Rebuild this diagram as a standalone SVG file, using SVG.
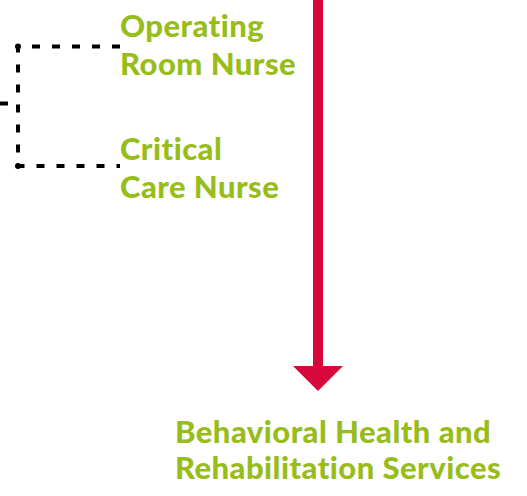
<svg xmlns="http://www.w3.org/2000/svg" width="527" height="496" viewBox="0 0 527 496">
  <style>
    .label { font-family: Lato, "Open Sans", "Liberation Sans", sans-serif; font-weight: 900; font-size: 31px; letter-spacing: 0.45px; font-variant-ligatures: none; fill: #98BD1B; }
    .dash { fill: none; stroke: #000; stroke-width: 4; stroke-dasharray: 8 12; }
    .flow { fill: none; stroke: #D6073A; stroke-width: 10; }
  </style>
  <rect width="527" height="496" fill="#fff"/>
  <g id="connectors">
    <!-- dotted bracket joining the two nurse roles -->
    <path class="dash" d="M120 46.5 H18 V166 H120"/>
    <path class="dash" d="M0 103.5 H18" stroke-dasharray="7 5"/>
    <circle cx="18" cy="46.5" r="3"/>
    <circle cx="18" cy="166" r="3"/>
    <!-- main red flow arrow -->
    <line class="flow" x1="318" y1="0" x2="318" y2="368"/>
    <polygon points="293,366 343,366 318,391" fill="#D6073A"/>
  </g>
  <g id="operating-room-nurse">
    <text class="label" x="120" y="37">Operating</text>
    <text class="label" x="120" y="75">Room Nurse</text>
  </g>
  <g id="critical-care-nurse">
    <text class="label" x="120" y="159.5">Critical</text>
    <text class="label" x="120" y="198">Care Nurse</text>
  </g>
  <g id="behavioral-health">
    <text class="label" x="175" y="442.5">Behavioral Health and</text>
    <text class="label" x="175" y="479">Rehabilitation Services</text>
  </g>
</svg>
